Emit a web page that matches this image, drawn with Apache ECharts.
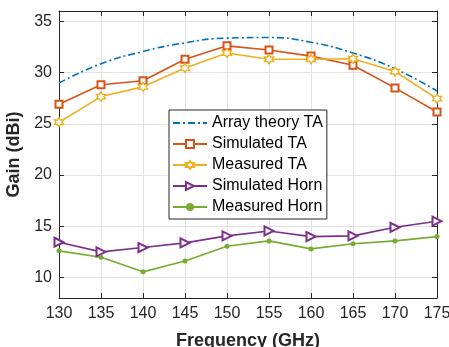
<!DOCTYPE html>
<html lang="en">
<head>
    <meta charset="UTF-8">
    <title>Gain vs Frequency</title>
    <script src="https://cdn.jsdelivr.net/npm/echarts@6/dist/echarts.min.js"></script>
    <style>
        body{ margin:0; background:#fff; }
        #main{ width:449px; height:347px; }
    </style>
</head>
<body>
<div id="main"></div>
<script type="text/javascript">
    // data
    var freq = [130, 135, 140, 145, 150, 155, 160, 165, 170, 175];
    var arrayTheoryTA = [28.97, 30.85, 32.05, 32.9, 33.35, 33.41, 32.95, 31.9, 30.37, 28.2];
    var simulatedTA = [26.9, 28.8, 29.2, 31.3, 32.6, 32.2, 31.6, 30.7, 28.5, 26.15];
    var measuredTA = [25.15, 27.65, 28.6, 30.43, 31.9, 31.3, 31.3, 31.34, 30.1, 27.45];
    var simulatedHorn = [13.44, 12.5, 12.92, 13.38, 14.06, 14.54, 13.99, 14.06, 14.9, 15.49];
    var measuredHorn = [12.6, 11.98, 10.55, 11.6, 13.05, 13.57, 12.79, 13.3, 13.57, 13.99];
    var yTicks = [10, 15, 20, 25, 30, 35];

    var c1 = '#0072BD', c2 = '#D95319', c3 = '#EDB120', c4 = '#7E2F8E', c5 = '#77AC30';
    var star = 'path://M0,-10 L2.9,-5 L8.66,-5 L5.8,0 L8.66,5 L2.9,5 L0,10 L-2.9,5 L-8.66,5 L-5.8,0 L-8.66,-5 L-2.9,-5 Z';

    function pairs(ys) {
        return freq.map(function (f, i) { return [f, ys[i]]; });
    }

    var myChart = echarts.init(document.getElementById('main'));
    var axisText = {color: '#262626', fontSize: 16, fontFamily: 'Liberation Sans'};

    var option = {
        backgroundColor: '#fff',
        animation: false,
        grid: {left: 59, right: 12, top: 11, bottom: 49, outerBoundsMode: 'none'},
        legend: {
            orient: 'vertical',
            left: 169,
            top: 110,
            backgroundColor: '#fff',
            borderColor: '#262626',
            borderWidth: 1,
            borderRadius: 0,
            padding: [5, 4, 4, 3],
            itemWidth: 34,
            itemHeight: 10,
            itemGap: 5,
            textStyle: {color: '#000', fontSize: 16, fontFamily: 'Liberation Sans', lineHeight: 16},
            data: [
                {name: 'Array theory TA', itemStyle: {opacity: 0}},
                'Simulated TA', 'Measured TA', 'Simulated Horn', 'Measured Horn'
            ]
        },
        xAxis: [{
            type: 'value', min: 130, max: 175, interval: 5,
            name: 'Frequency (GHz)', nameLocation: 'middle', nameGap: 34,
            nameTextStyle: {color: '#262626', fontSize: 18, fontWeight: 'bold', fontFamily: 'Liberation Sans'},
            axisLine: {lineStyle: {color: '#262626'}},
            axisTick: {inside: true, length: 5, lineStyle: {color: '#262626'}},
            axisLabel: Object.assign({margin: 8}, axisText),
            splitLine: {show: true, lineStyle: {color: '#e3e3e3'}}
        }, {
            type: 'value', min: 130, max: 175, interval: 5, position: 'top',
            axisLine: {lineStyle: {color: '#262626'}},
            axisTick: {inside: true, length: 5, lineStyle: {color: '#262626'}},
            axisLabel: {show: false},
            splitLine: {show: false}
        }],
        yAxis: [{
            type: 'value', min: 8, max: 36,
            name: 'Gain (dBi)', nameLocation: 'middle', nameGap: 26,
            nameTextStyle: {color: '#262626', fontSize: 18, fontWeight: 'bold', fontFamily: 'Liberation Sans'},
            axisLine: {show: true, lineStyle: {color: '#262626'}},
            axisTick: {show: true, inside: true, length: 5, customValues: yTicks, lineStyle: {color: '#262626'}},
            axisLabel: Object.assign({margin: 7, customValues: yTicks}, axisText),
            splitLine: {show: true, lineStyle: {color: '#e3e3e3'}}
        }, {
            type: 'value', min: 8, max: 36, position: 'right',
            axisLine: {show: true, lineStyle: {color: '#262626'}},
            axisTick: {show: true, inside: true, length: 5, customValues: yTicks, lineStyle: {color: '#262626'}},
            axisLabel: {show: false},
            splitLine: {show: false}
        }],
        series: [
            {
                name: 'Array theory TA', type: 'line', smooth: true,
                data: pairs(arrayTheoryTA), showSymbol: false, symbol: 'none',
                itemStyle: {color: c1},
                lineStyle: {color: c1, width: 1.6, type: [7, 3, 2, 3]}
            },
            {
                name: 'Simulated TA', type: 'line', data: pairs(simulatedTA),
                symbol: 'emptyRect', symbolSize: 7,
                itemStyle: {color: c2, borderWidth: 1.4},
                lineStyle: {color: c2, width: 1.6}
            },
            {
                name: 'Measured TA', type: 'line', data: pairs(measuredTA),
                symbol: star, symbolSize: 9,
                itemStyle: {color: '#fff', borderColor: c3, borderWidth: 1.4},
                lineStyle: {color: c3, width: 1.6}
            },
            {
                name: 'Simulated Horn', type: 'line', data: pairs(simulatedHorn),
                symbol: 'emptyTriangle', symbolSize: 9, symbolRotate: -90,
                itemStyle: {color: c4, borderWidth: 1.4},
                lineStyle: {color: c4, width: 1.6}
            },
            {
                name: 'Measured Horn', type: 'line', data: pairs(measuredHorn),
                symbol: 'circle', symbolSize: 5,
                itemStyle: {color: c5},
                lineStyle: {color: c5, width: 1.6}
            }
        ]
    };
    myChart.setOption(option);
</script>
</body>
</html>
